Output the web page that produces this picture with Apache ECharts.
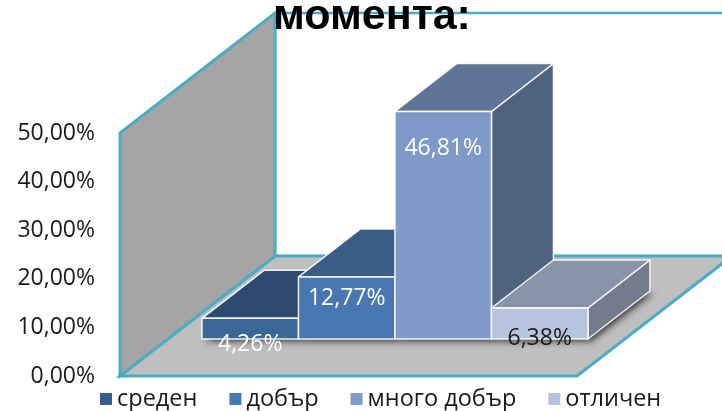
<!DOCTYPE html>
<html>
<head>
<meta charset="utf-8">
<style>
html, body { margin: 0; padding: 0; background: #fff; }
#chart { width: 722px; height: 411px; }
</style>
<script src="https://cdn.jsdelivr.net/npm/echarts@6/dist/echarts.min.js"></script>
</head>
<body>
<div id="chart"></div>
<script>
const categories = ['среден', 'добър', 'много добър', 'отличен']
const values = [4.26, 12.77, 46.81, 6.38]
const yTicks = [0, 10, 20, 30, 40, 50]

const frontColors = ['#3b6797', '#4877b2', '#7f9ac8', '#b7c4de']
const topColors = ['#2d4b71', '#3a5c87', '#5f7595', '#8a94a8']
const sideColors = ['#2d4b71', '#3a5c87', '#50637e', '#747b8c']
const legendColors = ['#355e8e', '#4a78b3', '#7f9bc9', '#b5c3de']
const labelColors = ['#fff', '#fff', '#fff', '#1a1a1a']
// how far each label sits under the top of its bar
const labelDrop = [26, 22, 37, 30]

const font = '"Open Sans", sans-serif'
const teal = '#4bacc6'
const xMin = -0.352
const xMax = 4.384
const wallDepth = [155, -120]
const barInset = [48, -37]
const barDepth = [62, -48]

function fmt (v) {
    return v.toFixed(2).replace('.', ',') + '%'
}

function shift (p, d) {
    return [p[0] + d[0], p[1] + d[1]]
}

function renderWalls (params, api) {
    const a = api.coord([xMin, 0])
    const b = api.coord([xMin, 50])
    const c = api.coord([xMax, 0])
    const d = api.coord([xMax, 50])
    const a2 = shift(a, wallDepth)
    const b2 = shift(b, wallDepth)
    const c2 = shift(c, wallDepth)
    const d2 = shift(d, wallDepth)
    return {
        type: 'group',
        children: [
            { type: 'polygon', shape: { points: [a2, b2, d2, c2] }, style: { fill: '#fff', stroke: teal, lineWidth: 2.5 } },
            { type: 'polygon', shape: { points: [a, c, c2, a2] }, style: { fill: '#bfbfbf', stroke: teal, lineWidth: 3 } },
            { type: 'polygon', shape: { points: [a, b, b2, a2] }, style: { fill: '#a5a5a5', stroke: teal, lineWidth: 3, lineJoin: 'miter' } }
        ]
    }
}

function renderBar (params, api) {
    const i = params.seriesIndex - 1
    const v = api.value(1)
    const x = api.value(0)
    const bl = shift(api.coord([x, 0]), barInset)
    const tl = shift(api.coord([x, v]), barInset)
    const br = shift(api.coord([x + 1, 0]), barInset)
    const tr = shift(api.coord([x + 1, v]), barInset)
    const edge = { stroke: 'rgba(255,255,255,0.9)', lineWidth: 1.5, lineJoin: 'round' }
    return {
        type: 'group',
        children: [
            {
                type: 'polygon',
                shape: { points: [bl, br, shift(br, barDepth), shift(bl, barDepth)] },
                style: { fill: '#555', shadowBlur: 7, shadowColor: 'rgba(0,0,0,0.75)', shadowOffsetX: 3, shadowOffsetY: 2 }
            },
            {
                type: 'polygon',
                shape: { points: [br, tr, shift(tr, barDepth), shift(br, barDepth)] },
                style: Object.assign({ fill: sideColors[i] }, edge)
            },
            {
                type: 'polygon',
                shape: { points: [tl, tr, shift(tr, barDepth), shift(tl, barDepth)] },
                style: Object.assign({ fill: topColors[i] }, edge)
            },
            {
                type: 'polygon',
                shape: { points: [bl, br, tr, tl] },
                style: Object.assign({ fill: frontColors[i] }, edge)
            },
            {
                type: 'text',
                z2: 50,
                style: {
                    text: fmt(v),
                    x: (tl[0] + tr[0]) / 2,
                    y: tl[1] + labelDrop[i],
                    align: 'center',
                    verticalAlign: 'middle',
                    fill: labelColors[i],
                    font: '23px ' + font
                }
            }
        ]
    }
}

const series = [{
    type: 'custom',
    name: 'walls',
    silent: true,
    z: 1,
    renderItem: renderWalls,
    data: [[0, 0]]
}]
categories.forEach(function (name, i) {
    series.push({
        type: 'custom',
        name: name,
        z: 2 + i,
        itemStyle: { color: legendColors[i] },
        renderItem: renderBar,
        encode: { x: 0, y: 1 },
        data: [[i, values[i]]]
    })
})

const myChart = echarts.init(document.getElementById('chart'), null, { renderer: 'canvas' })
myChart.setOption({
    animation: false,
    backgroundColor: '#fff',
    title: {
        text: 'момента:',
        left: 268,
        top: -9,
        z: 20,
        textStyle: { fontFamily: '"Liberation Sans", Arial, sans-serif', fontWeight: 'bold', fontSize: 43, color: '#000' }
    },
    legend: {
        data: categories,
        left: 94,
        top: 387,
        padding: [0, 0, 0, 6],
        itemGap: 32,
        itemWidth: 12,
        itemHeight: 12,
        icon: 'rect',
        textStyle: { fontFamily: font, fontSize: 23.5, color: '#1a1a1a' }
    },
    grid: { left: 120, right: 145, top: 133, bottom: 35 },
    xAxis: { type: 'value', min: xMin, max: xMax, show: false },
    yAxis: {
        type: 'value',
        min: yTicks[0],
        max: yTicks[yTicks.length - 1],
        interval: 10,
        axisLine: { show: false },
        axisTick: { show: false },
        splitLine: { show: false },
        axisLabel: { margin: 25, fontFamily: font, fontSize: 23, color: '#1a1a1a', formatter: fmt }
    },
    series: series
})
</script>
</body>
</html>
